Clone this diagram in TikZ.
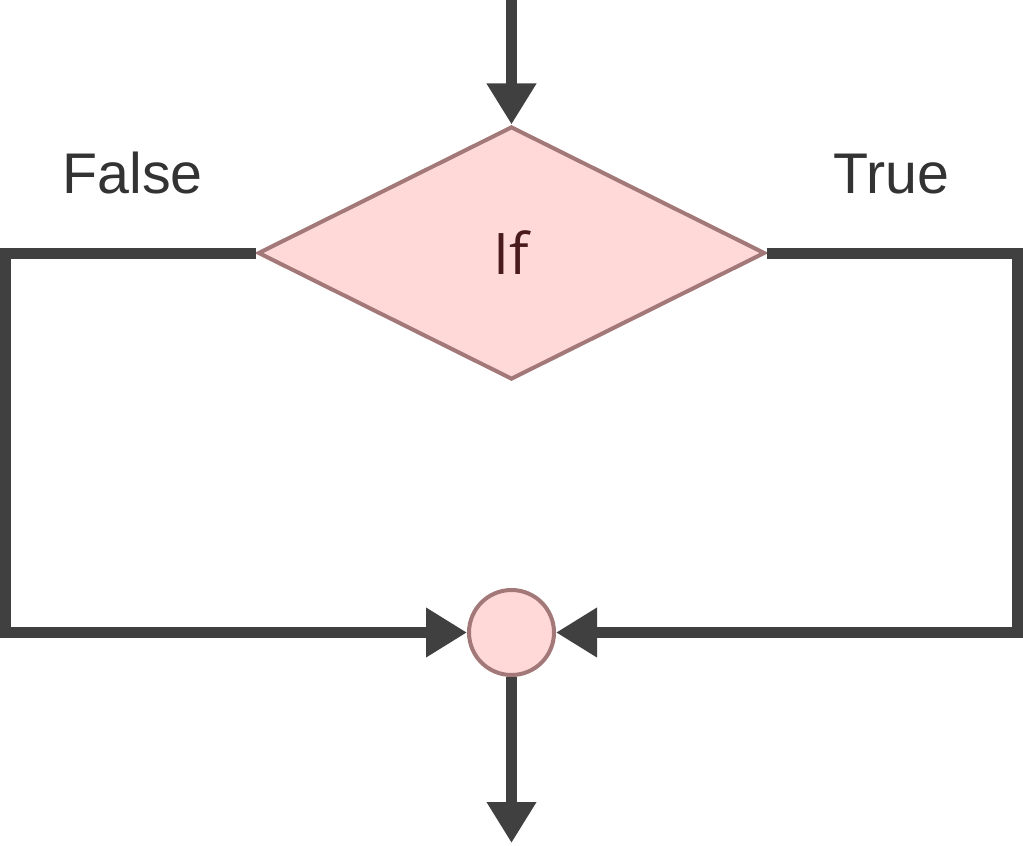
\documentclass[tikz,border=0pt]{standalone}
\usepackage{fontspec}
\setmainfont{Liberation Sans}
\newfontfamily\iffont{Open Sans}
\usetikzlibrary{shapes.geometric,arrows.meta}
\definecolor{linec}{HTML}{404040}
\definecolor{shapefill}{HTML}{FFD8D8}
\definecolor{shapestroke}{HTML}{A37878}
\definecolor{iftext}{HTML}{4A1A1A}
\definecolor{labeltext}{HTML}{333333}
\tikzset{
  flow/.style={draw=linec, line width=8.25pt, line join=miter},
  flowarrow/.style={flow, -{Triangle[length=30.75pt,width=35.25pt]}},
  decision/.style={diamond, draw=shapestroke, fill=shapefill, line width=3pt,
    minimum width=380.25pt, minimum height=189.75pt, inner sep=0pt,
    text=iftext, font=\iffont\fontsize{43}{50}\selectfont},
  joinpt/.style={circle, draw=shapestroke, fill=shapefill, line width=3pt,
    minimum size=63.75pt, inner sep=0pt},
  branchlabel/.style={anchor=base, text=labeltext, inner sep=0pt,
    font=\fontsize{43}{50}\selectfont}
}
\begin{document}
\begin{tikzpicture}[x=0.75pt,y=-0.75pt]
\useasboundingbox (0,0) rectangle (1023,845);
\node[decision] (d) at (511.5,253) {If};
\node[joinpt] (c) at (511.5,632.5) {};
\coordinate (top) at (511.5,0);
\coordinate (bot) at (511.5,843);
\coordinate (lt) at (5.5,253);
\coordinate (lb) at (5.5,632.5);
\coordinate (rt) at (1017.5,253);
\coordinate (rb) at (1017.5,632.5);
\node[branchlabel] (f) at (132.5,193) {False};
\node[branchlabel] (t) at (891,193) {True};
\draw[flowarrow] (top) -- (d.north);
\draw[flowarrow] (d.west) -- (lt) -- (lb) -- (c.west);
\draw[flowarrow] (d.east) -- (rt) -- (rb) -- (c.east);
\draw[flowarrow] (c.south) -- (bot);
\end{tikzpicture}
\end{document}
